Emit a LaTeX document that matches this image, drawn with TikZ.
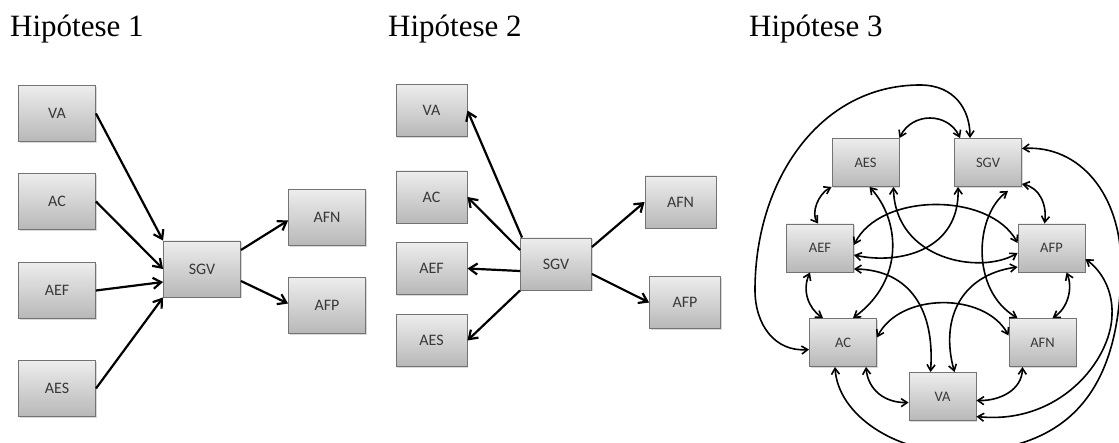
\documentclass[tikz,border=0pt]{standalone}
\usepackage{fontspec}
\setmainfont{Liberation Serif}
\newfontfamily\boxfont{Carlito}
\usetikzlibrary{arrows.meta,calc,shadows}
\begin{document}
\begin{tikzpicture}[x=1pt,y=-1pt,
  box/.style={draw=black!55, line width=0.9pt, top color=black!7, bottom color=black!28,
    inner sep=0pt, text=black!78,
    drop shadow={shadow xshift=1.3pt,shadow yshift=-1.3pt,opacity=0.3}},
  boxA/.style={box, minimum width=77pt, minimum height=56pt, font=\boxfont\fontsize{16}{19}\selectfont},
  boxB/.style={box, minimum width=71pt, minimum height=52pt, font=\boxfont\fontsize{16}{19}\selectfont},
  boxC/.style={box, minimum width=67pt, minimum height=48pt, font=\boxfont\fontsize{14.5}{17}\selectfont},
  arr/.style={line width=2.2pt, -{Straight Barb[length=8pt,width=11pt]}},
  darr/.style={line width=1.6pt, {Straight Barb[length=6pt,width=8pt]}-{Straight Barb[length=6pt,width=8pt]}},
  title/.style={anchor=base west, inner sep=0pt, font=\fontsize{31}{36}\selectfont}
]
\useasboundingbox (0,0) rectangle (1119,443);

% titles
\node[title] (T1) at (10,37) {Hipótese 1};
\node[title] (T2) at (388,37) {Hipótese 2};
\node[title] (T3) at (749,37) {Hipótese 3};

% ---------- Hipotese 1 ----------
\node[boxA] (VA1)  at (57,113.5) {VA};
\node[boxA] (AC1)  at (57,201.5) {AC};
\node[boxA] (AEF1) at (57,290.5) {AEF};
\node[boxA] (AES1) at (57,388.5) {AES};
\node[boxA] (SGV1) at (202,269) {SGV};
\node[boxA] (AFN1) at (327,217.5) {AFN};
\node[boxA] (AFP1) at (327,305.5) {AFP};

\draw[arr] (VA1.east) -- (SGV1.north west);
\draw[arr] (AC1.east) -- (SGV1.west);
\draw[arr] (AEF1.east) -- ($(SGV1.west)+(0,13)$);
\draw[arr] (AES1.east) -- (SGV1.south west);
\draw[arr] ($(SGV1.east)+(0,-19)$) -- ($(AFN1.west)+(0,3)$);
\draw[arr] ($(SGV1.east)+(0,12)$) -- ($(AFP1.west)+(0,-2)$);

% ---------- Hipotese 2 ----------
\node[boxB] (VA2)  at (431.5,110.5) {VA};
\node[boxB] (AC2)  at (431.5,197) {AC};
\node[boxB] (AEF2) at (431.5,268.5) {AEF};
\node[boxB] (AES2) at (431.5,340.5) {AES};
\node[boxB] (SGV2) at (556,264) {SGV};
\node[boxB] (AFN2) at (680.5,202) {AFN};
\node[boxB] (AFP2) at (685,302.5) {AFP};

\draw[arr] ($(SGV2.north west)+(2,0)$) -- (VA2.east);
\draw[arr] ($(SGV2.west)+(0,-14)$) -- (AC2.east);
\draw[arr] ($(SGV2.west)+(0,7)$) -- (AEF2.east);
\draw[arr] (SGV2.south west) -- (AES2.east);
\draw[arr] ($(SGV2.east)+(0,-17)$) -- (AFN2.west);
\draw[arr] ($(SGV2.east)+(0,10)$) -- (AFP2.west);

% ---------- Hipotese 3 ----------
\node[boxC] (AES3) at (865.5,162.5) {AES};
\node[boxC] (SGV3) at (988,162.5) {SGV};
\node[boxC] (AEF3) at (820,248) {AEF};
\node[boxC] (AFP3) at (1051.5,248) {AFP};
\node[boxC] (AC3)  at (843,342.5) {AC};
\node[boxC] (AFN3) at (1042.5,342.5) {AFN};
\node[boxC] (VA3)  at (942.5,396.5) {VA};

% outer left loop AC - SGV
\draw[darr] ($(AC3.west)+(0,7)$) .. controls (775,352) and (755,325) .. (755,290)
  .. controls (755,180) and (820,85) .. (920,85)
  .. controls (955,85) and (970,110) .. ($(SGV3.north)+(-18,0)$);
% AES - SGV
\draw[darr] (AES3.north east) .. controls (912,112) and (948,112) .. ($(SGV3.north west)+(6,0)$);
% outer right loop SGV - AC
\draw[darr] ($(SGV3.east)+(0,-14)$) .. controls (1080,145) and (1121,195) .. (1121,265)
  .. controls (1121,395) and (1065,452) .. (955,452)
  .. controls (895,452) and (838,415) .. ($(AC3.south)+(-8,0)$);
% ring
\draw[darr] (AES3.south west) .. controls (818,194) and (811,213) .. ($(AEF3.north)+(-2,0)$);
\draw[darr] ($(AEF3.south)+(-10,0)$) .. controls (802,290) and (808,308) .. ($(AC3.north)+(-20,0)$);
\draw[darr] ($(AC3.south)+(23,0)$) .. controls (868,390) and (885,403) .. ($(VA3.west)+(0,6)$);
\draw[darr] ($(VA3.east)+(0,4)$) .. controls (1000,401) and (1022,390) .. ($(AFN3.south)+(-20,0)$);
\draw[darr] ($(AFN3.north)+(10,0)$) .. controls (1068,308) and (1073,288) .. ($(AFP3.south)+(15,0)$);
\draw[darr] ($(AFP3.north)+(-7,0)$) .. controls (1047,205) and (1040,188) .. ($(SGV3.south east)+(0,-3)$);
% inner crossings
\draw[darr] ($(AEF3.east)+(0,-3)$) .. controls (880,192) and (990,192) .. ($(AFP3.west)+(0,-5)$);
\draw[darr] ($(AEF3.east)+(0,7)$) .. controls (900,265) and (960,250) .. ($(SGV3.south)+(-30,0)$);
\draw[darr] ($(AES3.south east)+(-6,0)$) .. controls (895,260) and (980,275) .. ($(AFP3.west)+(0,5)$);
\draw[darr] ($(AES3.south)+(4,0)$) .. controls (900,220) and (905,280) .. ($(AC3.north)+(10,0)$);
\draw[darr] ($(AEF3.east)+(0,21)$) .. controls (910,270) and (935,310) .. ($(VA3.north)+(-12,0)$);
\draw[darr] ($(SGV3.south)+(20,4)$) .. controls (975,215) and (970,290) .. ($(AFN3.north)+(-25,0)$);
\draw[darr] ($(AFP3.west)+(0,19)$) .. controls (960,275) and (940,320) .. ($(VA3.north)+(12,0)$);
\draw[darr] ($(AC3.east)+(0,-5)$) .. controls (900,292) and (985,292) .. ($(AFN3.west)+(0,-7)$);
% AFP - VA right
\draw[darr] ($(AFP3.east)+(0,11)$) .. controls (1103,272) and (1113,292) .. (1112,315)
  .. controls (1111,360) and (1060,425) .. ($(VA3.east)+(0,20)$);
\end{tikzpicture}
\end{document}
